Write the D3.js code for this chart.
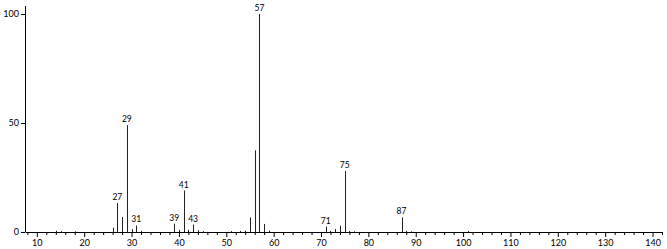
<!DOCTYPE html>
<html>
<head>
<meta charset="utf-8">
<script src="https://cdn.jsdelivr.net/npm/d3@7"></script>
<style>
    body { margin: 0; background: #fff; }
    #spectrum text { font-family: Lato, "DejaVu Sans", sans-serif; fill: #000; }
</style>
</head>
<body>
<div id="spectrum"></div>
<script>
// m/z values and relative intensities (%)
const mzValues = [14, 15, 18, 26, 27, 28, 29, 30, 31, 32, 39, 40, 41, 42, 43, 44, 45,
    51, 53, 54, 55, 56, 57, 58, 59, 71, 72, 73, 74, 75, 76, 77, 87, 88, 89, 101];
const intensities = [0.6, 0.4, 0.3, 2, 13.3, 6.9, 49, 1.3, 3, 0.5, 3.8, 1, 19, 1, 3.4, 0.8, 0.4,
    0.4, 0.5, 0.6, 6.7, 37.5, 100, 3.7, 0.6, 2.5, 0.5, 1.4, 2.9, 28, 0.5, 0.3, 6.7, 0.5, 0.3, 0.5];
const labelledPeaks = [27, 29, 31, 39, 41, 43, 57, 71, 75, 87];
const xMajorTicks = [10, 20, 30, 40, 50, 60, 70, 80, 90, 100, 110, 120, 130, 140];
const yTicks = [0, 50, 100];

const W = 667, H = 249;
let peaks = mzValues.map((m, i) => ({ mz: m, val: intensities[i] }));

let svg = d3.select("#spectrum")
    .append("svg")
    .attr("width", W)
    .attr("height", H);

let x = d3.scaleLinear()
    .domain([7.5, 142])
    .range([25, 662]);

let y = d3.scaleLinear()
    .domain([0, 100])
    .range([232, 14]);

// minor ticks every 2 units
let minor = d3.range(8, 143, 2).filter(v => v % 10 !== 0);
svg.append("g")
    .attr("transform", "translate(0," + y(0) + ")")
    .call(d3.axisBottom(x).tickValues(minor).tickSize(3).tickFormat(""))
    .call(g => g.select(".domain").remove());

let xAxis = svg.append("g")
    .attr("transform", "translate(0," + y(0) + ")")
    .call(d3.axisBottom(x)
        .tickValues(xMajorTicks)
        .tickSize(5)
        .tickSizeOuter(0)
        .tickPadding(3));
xAxis.selectAll("text").style("font-size", "9px");

let yAxis = svg.append("g")
    .attr("transform", "translate(" + x.range()[0] + ",0)")
    .call(d3.axisLeft(y)
        .tickValues(yTicks)
        .tickSize(4)
        .tickSizeOuter(0)
        .tickPadding(2));
yAxis.selectAll("text").style("font-size", "9px");
// the vertical axis runs a bit above 100
yAxis.select(".domain").attr("d", "M0.5," + y(0) + "V6");

svg.selectAll("line.peak")
    .data(peaks)
    .enter()
    .append("line")
    .attr("class", "peak")
    .attr("x1", d => Math.round(x(d.mz)) + 0.5)
    .attr("x2", d => Math.round(x(d.mz)) + 0.5)
    .attr("y1", y(0))
    .attr("y2", d => y(d.val))
    .attr("stroke", "#222")
    .attr("stroke-width", 1);

svg.selectAll("text.peakLabel")
    .data(peaks.filter(d => labelledPeaks.includes(d.mz)))
    .enter()
    .append("text")
    .attr("class", "peakLabel")
    .attr("x", d => x(d.mz))
    .attr("y", d => y(d.val) - 3)
    .attr("text-anchor", "middle")
    .style("font-size", "8.5px")
    .text(d => d.mz);
</script>
</body>
</html>
